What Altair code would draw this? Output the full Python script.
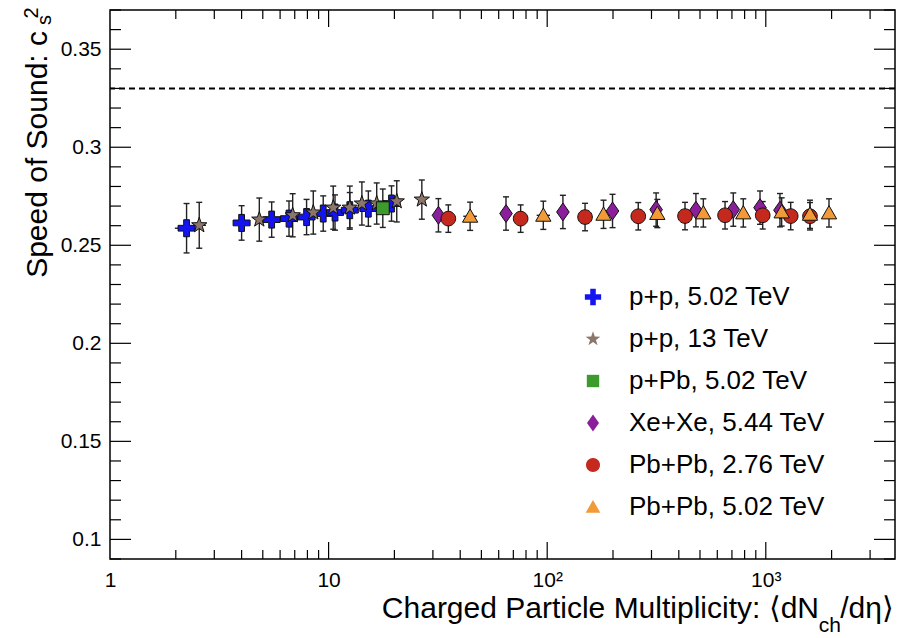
import altair as alt
import pandas as pd

# ---------------- data ----------------
series = ["p+p, 5.02 TeV", "p+p, 13 TeV", "p+Pb, 5.02 TeV",
          "Xe+Xe, 5.44 TeV", "Pb+Pb, 2.76 TeV", "Pb+Pb, 5.02 TeV"]
colors = ["#1414f0", "#8c766a", "#3d9a2c", "#8b1f9b", "#c5291d", "#f29a38"]

pp502_x = [2.24, 4.00, 5.49, 6.59, 7.93, 9.45, 10.7, 12.5, 15.2, 19.4]
pp502_y = [0.2587, 0.2614, 0.2631, 0.2636, 0.2644, 0.2662, 0.2667, 0.2679, 0.2687, 0.2713]
pp502_e = [0.0126, 0.0088, 0.0090, 0.0090, 0.0090, 0.0090, 0.0090, 0.0090, 0.0090, 0.0090]

pp13_x = [2.56, 4.82, 6.85, 8.51, 10.5, 12.5, 14.2, 16.6, 20.5, 26.7]
pp13_y = [0.2602, 0.2631, 0.2653, 0.2667, 0.2692, 0.2692, 0.2713, 0.2713, 0.2724, 0.2733]
pp13_e = [0.0117, 0.0110, 0.0110, 0.0110, 0.0110, 0.0110, 0.0110, 0.0105, 0.0105, 0.0100]

ppb_x = [17.7]
ppb_y = [0.2689]
ppb_e = [0.0098]

xexe_x = [31.8, 64.8, 118, 199, 315, 479, 710, 941, 1161]
xexe_y = [0.2653, 0.2662, 0.2670, 0.2675, 0.2682, 0.2679, 0.2682, 0.2692, 0.2679]
xexe_e = [0.0085, 0.0085, 0.0085, 0.0085, 0.0085, 0.0085, 0.0085, 0.0085, 0.0085]

pb276_x = [35.3, 75.6, 149, 261, 427, 651, 968, 1300, 1593]
pb276_y = [0.2636, 0.2636, 0.2644, 0.2648, 0.2649, 0.2653, 0.2653, 0.2649, 0.2648]
pb276_e = [0.0070, 0.0070, 0.0070, 0.0070, 0.0070, 0.0070, 0.0070, 0.0070, 0.0070]

pb502_x = [44.4, 96.0, 181, 319, 518, 789, 1182, 1593, 1946]
pb502_y = [0.2648, 0.2653, 0.2658, 0.2662, 0.2665, 0.2665, 0.2670, 0.2658, 0.2665]
pb502_e = [0.0072, 0.0072, 0.0072, 0.0072, 0.0072, 0.0072, 0.0072, 0.0072, 0.0072]

# horizontal (x) uncertainties that are visible
xerr_x = [2.24, 2.56, 44.4, 96.0]
xerr_y = [0.2587, 0.2602, 0.2648, 0.2653]
xerr_lo = [1.98, 2.40, 41.3, 89.5]
xerr_hi = [2.55, 2.75, 47.7, 103.0]

sound_limit = 0.33  # 1/3 conformal limit line

y_major = [0.1, 0.15, 0.2, 0.25, 0.3, 0.35]
x_major = [10, 100, 1000]
x_labels = [1, 10, 100, 1000]

# ---------------- build tables ----------------
rows = []
for name, xs, ys, es in [
    (series[0], pp502_x, pp502_y, pp502_e),
    (series[1], pp13_x, pp13_y, pp13_e),
    (series[2], ppb_x, ppb_y, ppb_e),
    (series[3], xexe_x, xexe_y, xexe_e),
    (series[4], pb276_x, pb276_y, pb276_e),
    (series[5], pb502_x, pb502_y, pb502_e),
]:
    for xv, yv, ev in zip(xs, ys, es):
        rows.append({"series": name, "x": xv, "y": yv, "ylo": yv - ev, "yhi": yv + ev})
df = pd.DataFrame(rows)
df_xerr = pd.DataFrame({"x": xerr_x, "y": xerr_y, "xlo": xerr_lo, "xhi": xerr_hi})

y_minor = [round(0.09 + 0.01 * i, 2) for i in range(29)]
y_minor = [v for v in y_minor if all(abs(v - m) > 1e-6 for m in y_major)]
x_minor = [m * d for d in (1, 10, 100) for m in range(2, 10)] + [2000, 3000]

# ---------------- geometry / styling ----------------
W, H = 785, 549
FONT = "Liberation Sans"

shape_paths = [
    "M-0.34,-1H0.34V-0.34H1V0.34H0.34V1H-0.34V0.34H-1V-0.34H-0.34Z",
    "M0,-0.95L0.22,-0.31L0.9,-0.29L0.36,0.12L0.56,0.77L0,0.38L-0.56,0.77L-0.36,0.12L-0.9,-0.29L-0.22,-0.31Z",
    "M-0.76,-0.76H0.76V0.76H-0.76Z",
    "M0,-1.05L0.74,0L0,1.05L-0.74,0Z",
    "M0.86,0A0.86,0.86,0,1,1,-0.86,0A0.86,0.86,0,1,1,0.86,0Z",
    "M0,-0.86L0.9,0.7L-0.9,0.7Z",
]

xscale = alt.Scale(type="log", domain=[1, 3900], nice=False)
yscale = alt.Scale(domain=[0.09, 0.37], nice=False, zero=False)

xaxis = alt.Axis(values=x_labels, title=None, grid=False, ticks=False, domain=False,
                 labelExpr="datum.value == 1 ? '1' : datum.value == 10 ? '10' : datum.value == 100 ? '10²' : '10³'",
                 labelFont=FONT, labelFontSize=21, labelColor="black", labelPadding=10,
                 labelFlush=False, labelOverlap=False)
yaxis = alt.Axis(values=y_major, title=None, grid=False, ticks=False, domain=False,
                 format=".2~f", labelFont=FONT, labelFontSize=21, labelColor="black",
                 labelPadding=9, labelFlush=False, labelOverlap=False)

X = lambda f: alt.X(f, type="quantitative", scale=xscale, axis=xaxis)
Y = lambda f: alt.Y(f, type="quantitative", scale=yscale, axis=yaxis)

base = alt.Chart(df)

# error bars
ebar = base.mark_rule(color="#222222", strokeWidth=1.4).encode(x=X("x"), y=Y("ylo"), y2="yhi")
cap_lo = base.mark_rule(color="#222222", strokeWidth=1.4, xOffset=-3, x2Offset=3).encode(
    x=X("x"), x2="x", y=Y("ylo"))
cap_hi = base.mark_rule(color="#222222", strokeWidth=1.4, xOffset=-3, x2Offset=3).encode(
    x=X("x"), x2="x", y=Y("yhi"))
xbar = alt.Chart(df_xerr).mark_rule(color="#222222", strokeWidth=1.4).encode(
    x=X("xlo"), x2="xhi", y=Y("y"))

legend = alt.Legend(title=None, orient="none", legendX=470, legendY=274,
                    labelFont=FONT, labelFontSize=26, labelColor="black", labelLimit=0,
                    symbolSize=265, symbolStrokeColor="#111111",
                    symbolStrokeWidth=1, rowPadding=16, labelOffset=23,
                    padding=0, symbolOpacity=1)

points = base.mark_point(filled=True, size=289, opacity=1, stroke="#111111", strokeWidth=1).encode(
    x=X("x"), y=Y("y"),
    fill=alt.Fill("series:N", sort=series,
                  scale=alt.Scale(domain=series, range=colors), legend=legend),
    shape=alt.Shape("series:N", sort=series,
                    scale=alt.Scale(domain=series, range=shape_paths), legend=legend),
)

limit = alt.Chart(pd.DataFrame({"v": [sound_limit]})).mark_rule(
    color="black", strokeWidth=2, strokeDash=[6, 4]).encode(y=Y("v"))

# inward frame ticks
def yt(vals, length, right):
    d = pd.DataFrame({"v": vals})
    x0, x1 = (W - length, W) if right else (0, length)
    return alt.Chart(d).mark_rule(color="black", strokeWidth=1.2).encode(
        y=Y("v"), x=alt.value(x0), x2=alt.value(x1))

def xt(vals, length, top):
    d = pd.DataFrame({"v": vals})
    y0, y1 = (0, length) if top else (H - length, H)
    return alt.Chart(d).mark_rule(color="black", strokeWidth=1.2).encode(
        x=X("v"), y=alt.value(y0), y2=alt.value(y1))

ticks = [yt(y_major, 21, False), yt(y_minor, 11, False), yt(y_major, 21, True), yt(y_minor, 11, True),
         xt(x_major, 17, False), xt(x_minor, 9, False), xt(x_major, 17, True), xt(x_minor, 9, True)]

# axis titles (with sub/superscripts)
one = pd.DataFrame({"a": [0]})
ytitle = alt.Chart(one).mark_text(text="Speed of Sound: c", font=FONT, fontSize=30, angle=270,
                                  align="right", baseline="alphabetic", color="black").encode(
    x=alt.value(-63), y=alt.value(21))
ysup = alt.Chart(one).mark_text(text="2", font=FONT, fontSize=20, angle=270, align="center",
                                baseline="middle", color="black").encode(x=alt.value(-78), y=alt.value(3))
ysub = alt.Chart(one).mark_text(text="s", font=FONT, fontSize=20, angle=270, align="center",
                                baseline="middle", color="black").encode(x=alt.value(-65), y=alt.value(10))

xt1 = alt.Chart(one).mark_text(text="Charged Particle Multiplicity: ⟨dN", font=FONT, fontSize=30,
                               align="right", baseline="alphabetic", color="black").encode(
    x=alt.value(709), y=alt.value(608))
xt2 = alt.Chart(one).mark_text(text="ch", font=FONT, fontSize=21, align="right",
                               baseline="alphabetic", color="black").encode(
    x=alt.value(731), y=alt.value(622))
xt3 = alt.Chart(one).mark_text(text="/dη⟩", font=FONT, fontSize=30, align="right",
                               baseline="alphabetic", color="black").encode(
    x=alt.value(784), y=alt.value(608))

chart = alt.layer(
    limit, *ticks, ebar, cap_lo, cap_hi, xbar, points, ytitle, ysup, ysub, xt1, xt2, xt3
).properties(
    width=W, height=H,
    autosize=alt.AutoSizeParams(type="none"),
    padding={"left": 110, "top": 10, "right": 5, "bottom": 79},
    background="white",
).configure_view(stroke="black", strokeWidth=1.5)

chart.save("out.html", embed_options={"renderer": "svg", "actions": False})
